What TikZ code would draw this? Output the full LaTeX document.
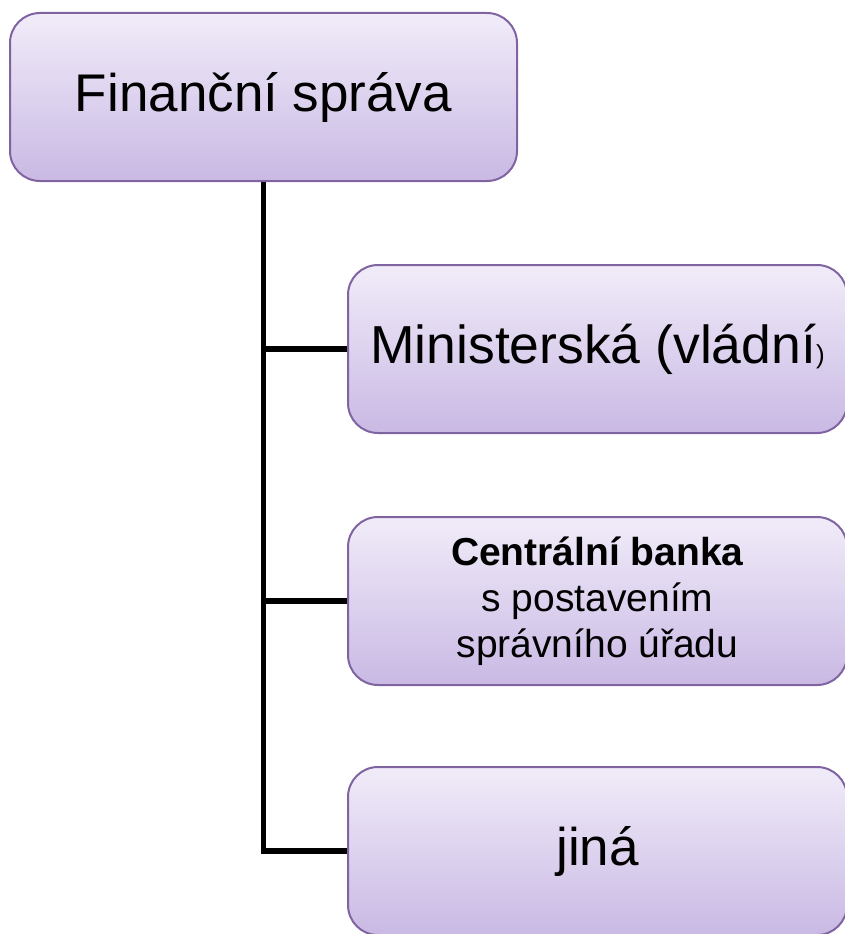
\documentclass[tikz,border=0pt]{standalone}
\usepackage{fontspec}
\setmainfont{Liberation Sans}
\definecolor{boxtop}{RGB}{241,236,249}
\definecolor{boxbot}{RGB}{201,185,228}
\definecolor{boxline}{RGB}{128,100,162}
\tikzset{
  orgbox/.style={draw=boxline, line width=2pt, rounded corners=30pt,
    top color=boxtop, bottom color=boxbot, inner sep=0pt,
    minimum height=168pt, align=center},
  link/.style={line width=5.5pt, line join=miter, draw=black}
}
\begin{document}
\begin{tikzpicture}[x=1pt,y=-1pt]
\useasboundingbox (0,0) rectangle (845,934);
\clip (0,0) rectangle (845,934);
\node[orgbox, minimum width=507pt, font=\fontsize{53}{60}\selectfont] (fin) at (263.5,97) {Finanční správa};
\node[orgbox, minimum width=499pt, font=\fontsize{53.5}{60}\selectfont] (min) at (597.5,349) {Ministerská (vládní{\fontsize{26}{30}\selectfont)}};
\node[orgbox, minimum width=499pt, font=\fontsize{39}{46}\selectfont] (cb) at (597.5,601) {\textbf{Centrální banka}\\ s postavením\\správního úřadu};
\node[orgbox, minimum width=499pt, font=\fontsize{53}{60}\selectfont] (jina) at (597.5,851) {jiná};
\draw[link] (fin.south) |- (min.west);
\draw[link] (fin.south) |- (cb.west);
\draw[link] (fin.south) |- (jina.west);
\end{tikzpicture}
\end{document}
